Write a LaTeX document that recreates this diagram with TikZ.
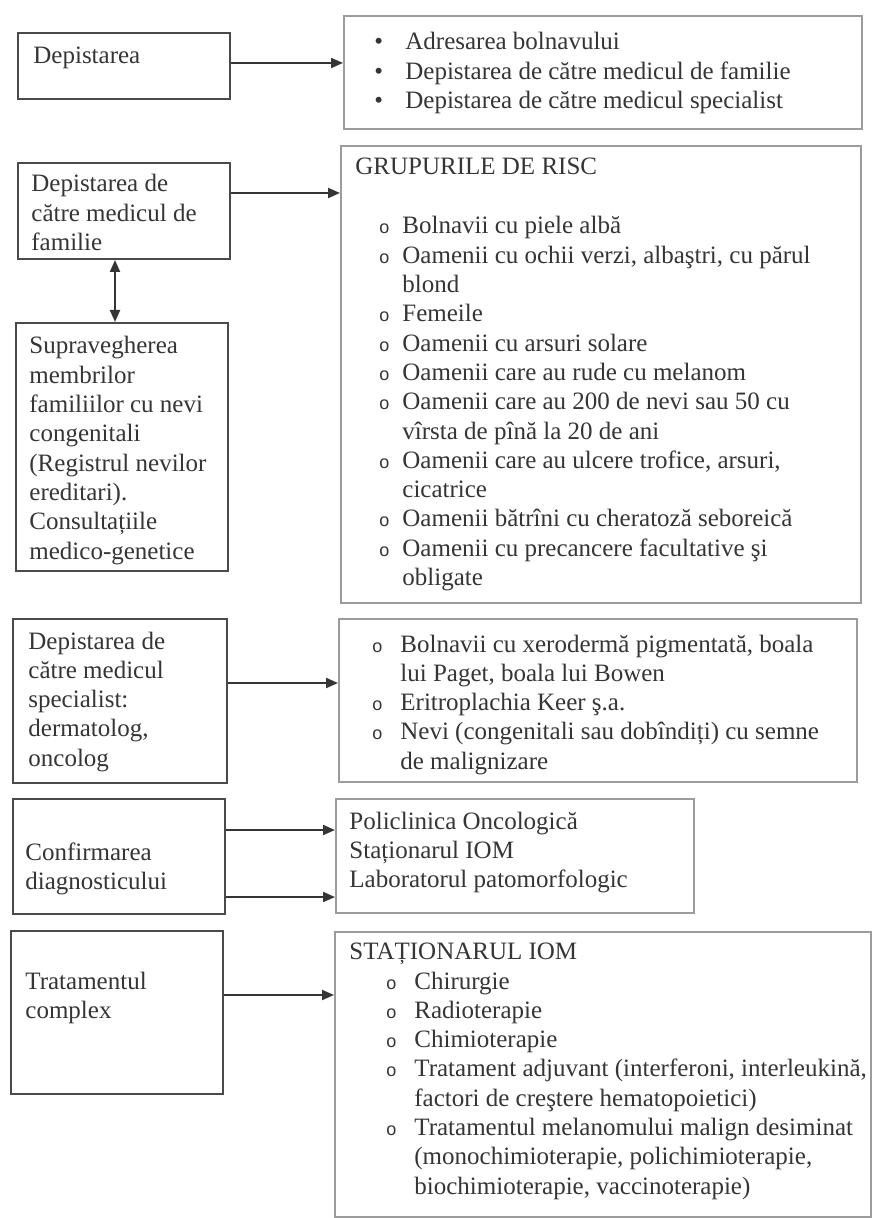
\documentclass[tikz,border=0pt]{standalone}
\usepackage{fontspec}
\setmainfont{Liberation Serif}
\newfontfamily\markfont{Liberation Sans}
\usetikzlibrary{arrows.meta}
\definecolor{ink}{HTML}{353535}
\definecolor{lframe}{HTML}{4A4A4A}
\definecolor{rframe}{HTML}{9C9C9C}
% plain block of left-aligned lines
\newcommand\txtlines[1]{\begin{tabular}[t]{@{}l@{}}#1\end{tabular}}
% list with a fixed-width marker column
\newcommand\marklist[2]{\begin{tabular}[t]{@{}p{#1}@{}l@{}}#2\end{tabular}}
\newcommand\ob{{\markfont\fontsize{9}{9}\selectfont o}}
\newcommand\db{\textbullet}
\begin{document}
\begin{tikzpicture}[x=0.5pt,y=-0.5pt,
  lbox/.style 2 args={draw=lframe, line width=1pt, anchor=north west,
    minimum width=#1*0.5pt, minimum height=#2*0.5pt, inner sep=0pt},
  rbox/.style 2 args={draw=rframe, line width=1pt, anchor=north west,
    minimum width=#1*0.5pt, minimum height=#2*0.5pt, inner sep=0pt},
  txt/.style={anchor=base west, inner sep=0pt, text=ink,
    font=\fontsize{12.5}{14.65}\selectfont},
  arr/.style={draw=ink, line width=1pt, -{Triangle[length=6pt,width=5pt]}},
  darr/.style={draw=ink, line width=1pt, {Triangle[length=6pt,width=5pt]}-{Triangle[length=6pt,width=5pt]}},
]
\fill[white] (0,0) rectangle (877,1218);
\useasboundingbox (0,0) rectangle (877,1218);

% ---- boxes ----
\node[lbox={212}{66}]  (b1) at (17,32)  {};
\node[rbox={518}{113}] (r1) at (343,15) {};
\node[lbox={212}{96}]  (b2) at (17,162) {};
\node[rbox={520}{457}] (r2) at (340,145) {};
\node[lbox={212}{248}] (b3) at (15,322) {};
\node[lbox={214}{164}] (b4) at (12,618) {};
\node[rbox={518}{163}] (r4) at (338,618) {};
\node[lbox={212}{115}] (b5) at (12,798) {};
\node[rbox={358}{114}] (r5) at (335,798) {};
\node[lbox={212}{163}] (b6) at (10,930) {};
\node[rbox={536}{285}] (r6) at (334,931) {};

% ---- left texts ----
\node[txt] (t1) at (33,64) {Depistarea};
\node[txt] (t2) at (31,192) {\txtlines{Depistarea de\\ către medicul de\\ familie}};
\node[txt] (t3) at (29,354) {\txtlines{Supravegherea\\ membrilor\\ familiilor cu nevi\\ congenitali\\ (Registrul nevilor\\ ereditari).\\ Consultațiile\\ medico-genetice}};
\node[txt] (t4) at (28,649) {\txtlines{Depistarea de\\ către medicul\\ specialist:\\ dermatolog,\\ oncolog}};
\node[txt] (t5) at (25,860) {\txtlines{Confirmarea\\ diagnosticului}};
\node[txt] (t6) at (25,989) {\txtlines{Tratamentul\\ complex}};

% ---- right texts ----
\node[txt] (s1) at (374,50) {\marklist{15.5pt}{%
  \db & Adresarea bolnavului\\
  \db & Depistarea de către medicul de familie\\
  \db & Depistarea de către medicul specialist}};

\node[txt] (h2) at (355,175) {GRUPURILE DE RISC};
\node[txt] (s2) at (379,234) {\marklist{11.5pt}{%
  \ob & Bolnavii cu piele albă\\
  \ob & Oamenii cu ochii verzi, albaştri, cu părul\\
      & blond\\
  \ob & Femeile\\
  \ob & Oamenii cu arsuri solare\\
  \ob & Oamenii care au rude cu melanom\\
  \ob & Oamenii care au 200 de nevi sau 50 cu\\
      & vîrsta de pînă la 20 de ani\\
  \ob & Oamenii care au ulcere trofice, arsuri,\\
      & cicatrice\\
  \ob & Oamenii bătrîni cu cheratoză seboreică\\
  \ob & Oamenii cu precancere facultative şi\\
      & obligate}};

\node[txt] (s4) at (372,652) {\marklist{14pt}{%
  \ob & Bolnavii cu xerodermă pigmentată, boala\\
      & lui Paget, boala lui Bowen\\
  \ob & Eritroplachia Keer ş.a.\\
  \ob & Nevi (congenitali sau dobîndiți) cu semne\\
      & de malignizare}};

\node[txt] (s5) at (349,829) {\txtlines{Policlinica Oncologică\\ Staționarul IOM\\ Laboratorul patomorfologic}};

\node[txt] (h6) at (349,959) {STAȚIONARUL IOM};
\node[txt] (s6) at (386,989) {\marklist{14pt}{%
  \ob & Chirurgie\\
  \ob & Radioterapie\\
  \ob & Chimioterapie\\
  \ob & Tratament adjuvant (interferoni, interleukină,\\
      & factori de creştere hematopoietici)\\
  \ob & Tratamentul melanomului malign desiminat\\
      & (monochimioterapie, polichimioterapie,\\
      & biochimioterapie, vaccinoterapie)}};

% ---- connectors ----
\coordinate (y1) at (0,63);
\coordinate (y2) at (0,193);
\coordinate (y4) at (0,683);
\coordinate (y5a) at (0,830);
\coordinate (y5b) at (0,897);
\coordinate (y6) at (0,995);
\coordinate (xv) at (115,0);

\draw[arr] (b1.east |- y1) -- (r1.west |- y1);
\draw[arr] (b2.east |- y2) -- (r2.west |- y2);
\draw[darr] (b2.south -| xv) -- (b3.north -| xv);
\draw[arr] (b4.east |- y4) -- (r4.west |- y4);
\draw[arr] (b5.east |- y5a) -- (r5.west |- y5a);
\draw[arr] (b5.east |- y5b) -- (r5.west |- y5b);
\draw[arr] (b6.east |- y6) -- (r6.west |- y6);
\end{tikzpicture}
\end{document}
